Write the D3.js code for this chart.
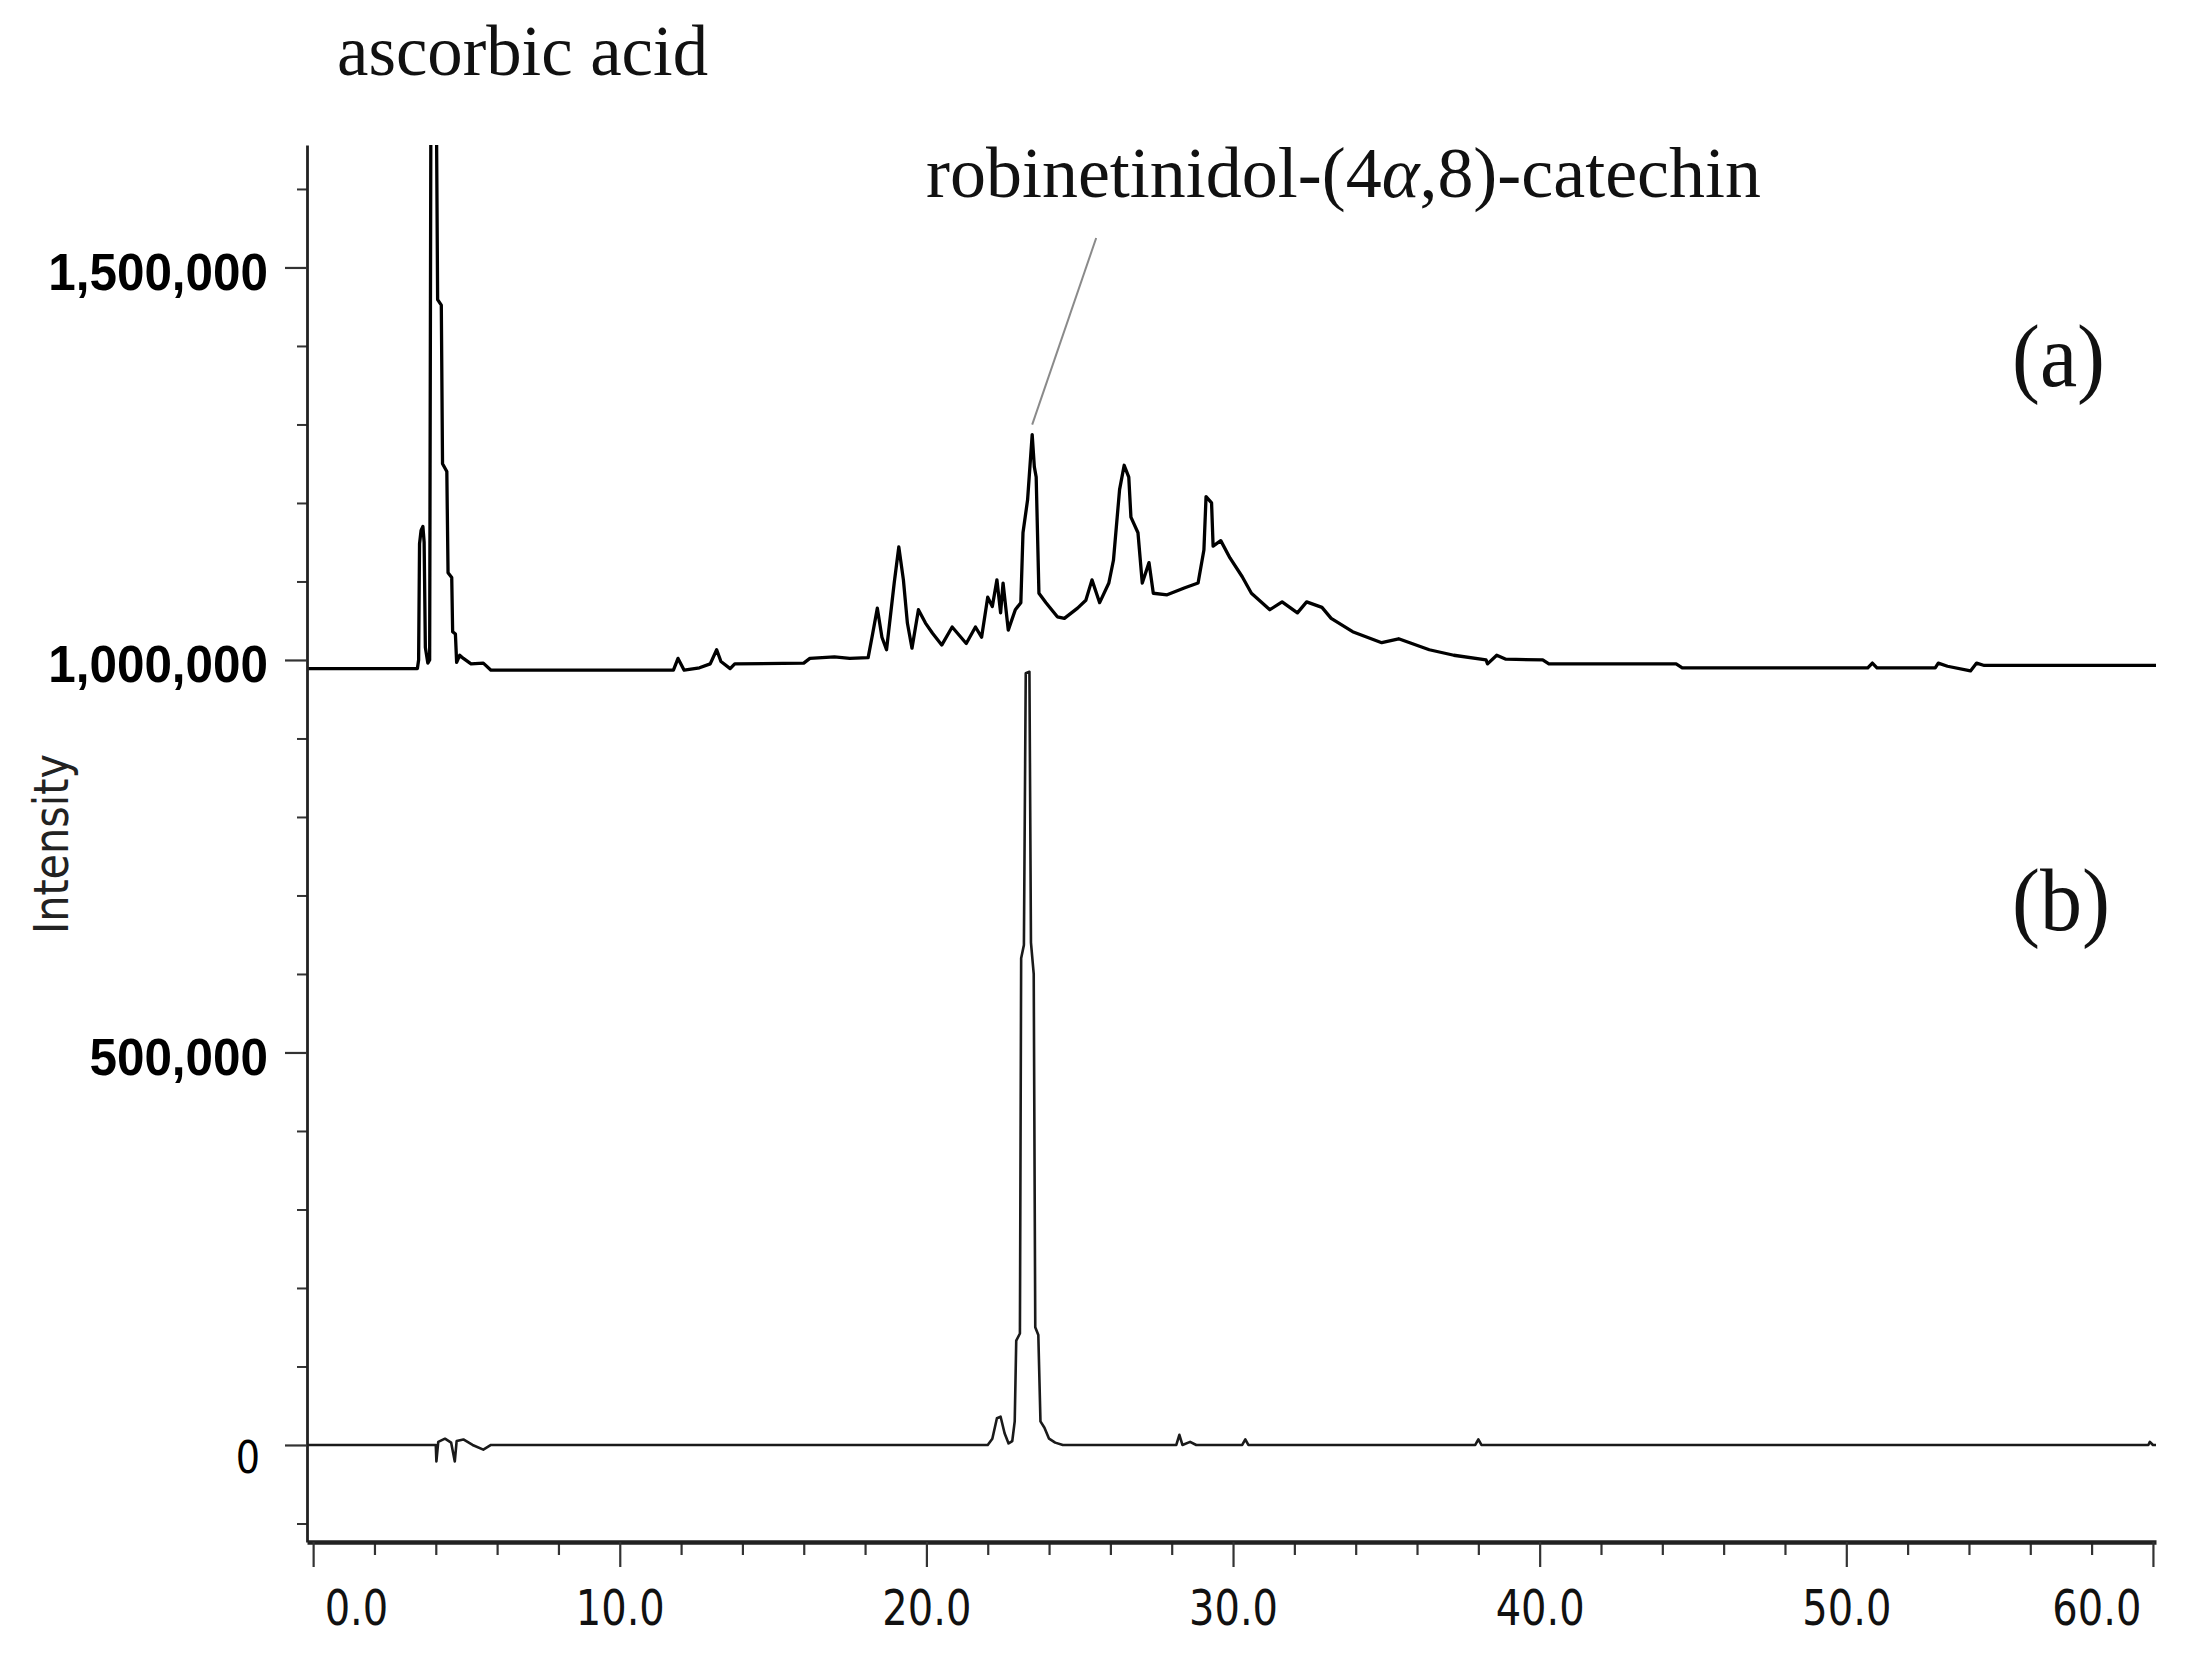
<!DOCTYPE html>
<html><head><meta charset="utf-8">
<script src="https://cdn.jsdelivr.net/npm/d3@7"></script>
<style>body{margin:0;background:#fff;} svg{display:block;background:#fff;}</style>
</head><body>
<svg id="chart" width="2204" height="1668"></svg>
<script>
// ---- data (retention time in min, intensity) ----
const traceA = [
[-0.2,989000],[3.40,989000],[3.44,1000000],[3.47,1148000],[3.52,1165000],[3.58,1170000],[3.62,1150000],
[3.66,1016000],[3.74,996000],[3.80,1000000],[3.84,1700000],[4.02,1700000],[4.06,1459000],[4.18,1452000],
[4.22,1250000],[4.36,1240000],[4.40,1111000],[4.52,1105000],[4.55,1036000],[4.64,1033000],[4.68,997000],
[4.78,1006000],[4.9,1002000],[5.15,995000],[5.55,996000],[5.8,987000],[11.75,987000],[11.9,1002000],
[12.1,987000],[12.6,990000],[12.95,995000],[13.16,1013000],[13.3,998000],[13.6,989000],[13.75,995000],
[16.0,996000],[16.2,1002000],[17.0,1004000],[17.5,1002000],[18.1,1003000],[18.25,1034000],[18.4,1066000],
[18.55,1029000],[18.7,1013000],[18.95,1098000],[19.1,1144000],[19.25,1102000],[19.38,1047000],[19.53,1015000],
[19.74,1064000],[19.97,1047000],[20.2,1034000],[20.5,1019000],[20.84,1042000],[21.3,1021000],[21.6,1042000],
[21.8,1029000],[22.0,1080000],[22.15,1068000],[22.3,1102000],[22.42,1060000],[22.5,1098000],[22.67,1038000],
[22.9,1064000],[23.08,1073000],[23.15,1162000],[23.3,1204000],[23.45,1287000],[23.52,1246000],[23.58,1233000],
[23.67,1085000],[23.9,1073000],[24.27,1055000],[24.5,1053000],[24.93,1066000],[25.2,1076000],[25.4,1102000],
[25.65,1073000],[25.95,1098000],[26.1,1127000],[26.3,1217000],[26.45,1248000],[26.6,1233000],[26.67,1182000],
[26.9,1162000],[27.04,1098000],[27.26,1124000],[27.4,1085000],[27.85,1083000],[28.43,1092000],[28.86,1098000],
[29.05,1140000],[29.12,1208000],[29.3,1200000],[29.35,1145000],[29.6,1152000],[29.9,1130000],[30.3,1106000],
[30.6,1085000],[31.2,1064000],[31.6,1074000],[32.1,1060000],[32.4,1074000],[32.9,1067000],[33.2,1053000],
[33.9,1036000],[34.85,1022000],[35.4,1027000],[36.4,1013000],[37.2,1006000],[38.25,1000000],[38.3,995000],
[38.6,1006000],[38.9,1001000],[40.1,1000000],[40.3,995000],[44.45,995000],[44.65,990000],[50.7,990000],
[50.85,996000],[51.0,990000],[52.9,990000],[53.0,996000],[53.3,992000],[54.05,986000],[54.25,996000],
[54.5,993000],[60.1,993000]
];
const traceB = [
[-0.2,0],[4.0,0],[4.02,-21000],[4.08,4000],[4.3,8000],[4.5,3000],[4.62,-21000],[4.68,5000],[4.9,7000],
[5.2,0],[5.55,-6000],[5.8,0],[22.0,0],[22.15,8000],[22.3,34000],[22.42,36000],[22.55,15000],[22.68,2000],
[22.8,5000],[22.88,30000],[22.93,133000],[23.05,142000],[23.09,620000],[23.18,637000],[23.24,983000],
[23.36,985000],[23.41,640000],[23.5,600000],[23.55,150000],[23.65,140000],[23.72,30000],[23.85,22000],
[24.0,8000],[24.2,3000],[24.45,0],[28.15,0],[28.25,13000],[28.35,0],[28.6,4000],[28.8,0],[30.3,0],
[30.4,7000],[30.5,0],[37.9,0],[38.0,7000],[38.1,0],[59.85,0],[59.9,4000],[60.0,0],[60.1,0]
];
const xMajorTicks = [0, 10, 20, 30, 40, 50, 60];
const xMinorTicks = [2,4,6,8,12,14,16,18,22,24,26,28,32,34,36,38,42,44,46,48,52,54,56,58];
const yMajorTicks = [0, 500000, 1000000, 1500000];
const yMinorTicks = [-100000,100000,200000,300000,400000,600000,700000,800000,900000,1100000,1200000,1300000,1400000,1600000];
const xDomain = [-0.2, 60.1];
const yDomain = [-123600, 1656000];
const traceLabels = ["(a)", "(b)"];
const ascorbicLabel = "ascorbic acid";
const catechinLabel = ["robinetinidol-(4", "α", ",8)-catechin"];
const catechinPeak = [23.45, 1287000];
const yTitle = "Intensity";

// ---- layout ----
const L = 307, R = 2156, T = 145, B = 1542;
const svg = d3.select("#chart");
const x = d3.scaleLinear().domain(xDomain).range([L, R]);
const y = d3.scaleLinear().domain(yDomain).range([B, T]);

function condense(sel, k){
  sel.each(function(){
    const w = this.getComputedTextLength();
    d3.select(this).attr("textLength", w*k).attr("lengthAdjust","spacingAndGlyphs");
  });
}

svg.append("defs").append("clipPath").attr("id","plotclip")
  .append("rect").attr("x", L).attr("y", T).attr("width", R - L + 3).attr("height", B - T);

// ---- traces ----
const line = d3.line().x(d => x(d[0])).y(d => y(d[1]));
const plot = svg.append("g").attr("clip-path","url(#plotclip)");
plot.append("path").datum(traceB).attr("d", line)
  .attr("fill","none").attr("stroke","#1a1a1a").attr("stroke-width",2.6).attr("stroke-linejoin","round");
plot.append("path").datum(traceA).attr("d", line)
  .attr("fill","none").attr("stroke","#000").attr("stroke-width",3.3).attr("stroke-linejoin","round");

// ---- y axis ----
const yMinor = svg.append("g").attr("transform", `translate(${L},0)`)
  .call(d3.axisLeft(y).tickValues(yMinorTicks).tickSize(10).tickSizeOuter(0).tickFormat(""));
yMinor.select(".domain").remove();
yMinor.selectAll(".tick line").attr("stroke","#333").attr("stroke-width",2);

const yMajor = svg.append("g").attr("transform", `translate(${L},0)`)
  .call(d3.axisLeft(y).tickValues(yMajorTicks).tickSize(22).tickSizeOuter(0).tickFormat(d3.format(",")));
yMajor.select(".domain").attr("stroke","#222").attr("stroke-width",2.8);
yMajor.selectAll(".tick line").attr("stroke","#333").attr("stroke-width",2.2);
yMajor.selectAll(".tick text")
  .attr("fill","#000").attr("dy", null)
  .attr("font-family", d => d === 0 ? "DejaVu Sans, Verdana, sans-serif" : "Liberation Sans, Arial, sans-serif")
  .attr("font-weight", d => d === 0 ? "normal" : "bold")
  .attr("font-size", d => d === 0 ? 45 : 52)
  .attr("x", d => d === 0 ? -47 : -39)
  .attr("y", d => d === 0 ? 28 : 22)
  .attr("text-anchor","end");
condense(yMajor.selectAll(".tick text").filter(d => d !== 0), 0.95);
condense(yMajor.selectAll(".tick text").filter(d => d === 0), 0.85);

// ---- x axis ----
const xMinor = svg.append("g").attr("transform", `translate(0,${B})`)
  .call(d3.axisBottom(x).tickValues(xMinorTicks).tickSize(13).tickSizeOuter(0).tickFormat(""));
xMinor.select(".domain").remove();
xMinor.selectAll(".tick line").attr("stroke","#333").attr("stroke-width",2.2);

const xMajor = svg.append("g").attr("transform", `translate(0,${B})`)
  .call(d3.axisBottom(x).tickValues(xMajorTicks).tickSize(25).tickSizeOuter(0).tickFormat(d3.format(".1f")));
xMajor.select(".domain").attr("stroke","#222").attr("stroke-width",4.5);
xMajor.selectAll(".tick line").attr("stroke","#333").attr("stroke-width",2.2);
xMajor.selectAll(".tick text")
  .attr("fill","#111").attr("dy", null).attr("y", 83)
  .attr("font-family","DejaVu Sans, Verdana, sans-serif").attr("font-size", 50)
  .attr("text-anchor", (d,i,n) => i === 0 ? "start" : (i === n.length - 1 ? "end" : "middle"))
  .attr("x", (d,i,n) => i === 0 ? 11 : (i === n.length - 1 ? -12 : 0));
condense(xMajor.selectAll(".tick text"), 0.8);

// ---- y title ----
svg.append("text").text(yTitle)
  .attr("transform", `translate(68,${(755+933)/2}) rotate(-90)`)
  .attr("text-anchor","middle").attr("font-family","DejaVu Sans, Verdana, sans-serif")
  .attr("font-size", 48).attr("fill","#222")
  .attr("textLength", 180).attr("lengthAdjust","spacingAndGlyphs");

// ---- annotations ----
const serif = "Liberation Serif, 'Times New Roman', serif";
svg.append("text").text(ascorbicLabel)
  .attr("x", 337).attr("y", 75).attr("font-family", serif).attr("font-size", 71).attr("fill","#111")
  .attr("textLength", 371).attr("lengthAdjust","spacingAndGlyphs");

const cat = svg.append("text").attr("x", 926).attr("y", 197)
  .attr("font-family", serif).attr("font-size", 72).attr("fill","#111")
  .attr("textLength", 835).attr("lengthAdjust","spacingAndGlyphs");
cat.append("tspan").text(catechinLabel[0]);
cat.append("tspan").attr("font-style","italic").text(catechinLabel[1]);
cat.append("tspan").text(catechinLabel[2]);

const px = x(catechinPeak[0]), py = y(catechinPeak[1]) - 10;
svg.append("line").attr("x1", px + 64).attr("y1", 238).attr("x2", px).attr("y2", py)
  .attr("stroke","#8a8a8a").attr("stroke-width",2);

svg.append("text").text(traceLabels[0]).attr("x", 2012).attr("y", 386)
  .attr("font-family", serif).attr("font-size", 88).attr("fill","#111")
  .attr("textLength", 93).attr("lengthAdjust","spacingAndGlyphs");
svg.append("text").text(traceLabels[1]).attr("x", 2012).attr("y", 930)
  .attr("font-family", serif).attr("font-size", 88).attr("fill","#111")
  .attr("textLength", 98).attr("lengthAdjust","spacingAndGlyphs");
</script>
</body></html>
